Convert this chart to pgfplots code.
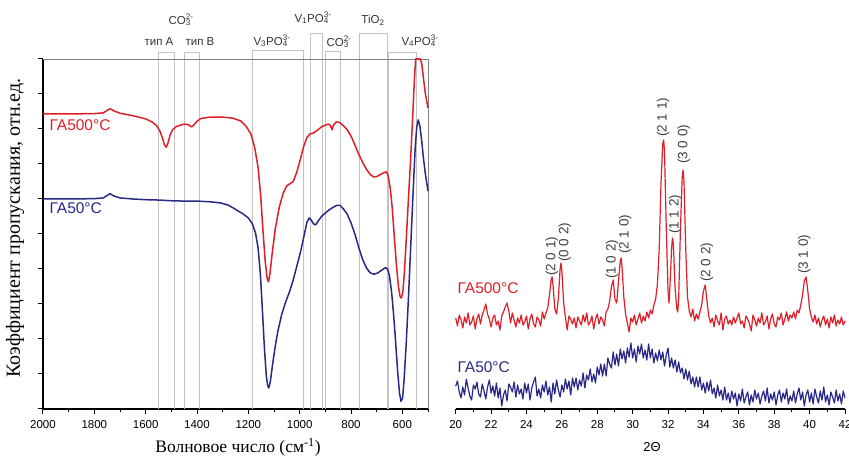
\documentclass[border=0pt]{standalone}
\usepackage{fontspec}
\setmainfont{Liberation Sans}
\newfontfamily\serif{Liberation Serif}
\usepackage{pgfplots}
\usepackage{pgfplotstable}
\pgfplotsset{compat=1.18}
\definecolor{cred}{RGB}{222,30,40}
\definecolor{cblue}{RGB}{40,40,135}
\definecolor{bandgray}{RGB}{195,195,195}
\newcommand\ch[2]{\rlap{\textsubscript{#1}}\textsuperscript{#2}}

\pgfplotstableread{
wn T
2000 8.43
1900 8.43
1800 8.44
1765 8.46
1748 8.54
1738 8.58
1725 8.52
1700 8.45
1650 8.38
1600 8.29
1575 8.20
1558 8.10
1545 7.95
1535 7.75
1527 7.55
1520 7.48
1513 7.60
1505 7.82
1495 7.98
1480 8.07
1460 8.12
1445 8.14
1430 8.11
1422 8.06
1414 8.10
1400 8.22
1385 8.30
1350 8.34
1300 8.34
1260 8.31
1230 8.23
1210 8.09
1190 7.86
1175 7.46
1162 6.90
1152 6.10
1143 5.10
1134 4.20
1127 3.75
1122 3.63
1116 3.85
1107 4.45
1095 5.15
1080 5.75
1065 6.15
1050 6.38
1035 6.45
1025 6.50
1012 6.75
1000 7.06
985 7.49
972 7.75
960 7.86
945 7.89
930 7.97
915 8.06
900 8.11
888 8.14
880 8.10
874 7.98
869 8.10
858 8.20
845 8.19
830 8.10
815 7.98
800 7.80
785 7.55
770 7.28
755 7.05
740 6.85
725 6.70
712 6.63
700 6.64
688 6.69
675 6.74
662 6.78
655 6.65
647 6.30
640 5.80
632 5.00
624 4.20
616 3.55
609 3.22
604 3.17
598 3.34
592 3.90
585 4.80
577 5.90
568 7.10
560 8.30
553 9.40
548 10.0
540 10.0
530 10.0
524 9.85
517 9.40
510 9.00
500 8.60
}\irred

\pgfplotstableread{
wn T
2000 6.00
1900 6.00
1800 6.01
1765 6.03
1748 6.11
1738 6.15
1725 6.09
1700 6.03
1650 6.00
1600 5.98
1550 5.97
1500 5.95
1450 5.94
1400 5.94
1350 5.92
1310 5.89
1280 5.83
1260 5.75
1240 5.66
1220 5.57
1200 5.46
1185 5.30
1172 5.03
1162 4.60
1153 3.85
1145 2.80
1137 1.70
1130 0.95
1125 0.68
1120 0.60
1114 0.80
1105 1.30
1095 1.80
1085 2.22
1070 2.70
1055 3.05
1040 3.34
1025 3.69
1010 4.11
995 4.54
982 4.98
972 5.33
963 5.46
955 5.40
946 5.29
938 5.26
927 5.38
915 5.50
900 5.60
885 5.69
870 5.76
855 5.82
843 5.82
830 5.72
815 5.57
800 5.32
785 5.00
770 4.62
755 4.28
740 4.03
725 3.89
710 3.85
695 3.89
680 3.97
665 4.04
658 4.00
650 3.80
642 3.35
634 2.70
626 1.90
618 1.05
611 0.45
605 0.22
599 0.32
593 0.85
585 1.85
576 3.20
567 4.70
558 6.20
550 7.45
544 8.05
538 8.26
532 8.10
525 7.70
518 7.18
510 6.70
500 6.23
}\irblue

\pgfplotstableread{
x y
20.0 91
20.1 83
20.2 94
20.3 89
20.4 81
20.5 92
20.6 86
20.7 96
20.8 84
20.9 87
21.0 93
21.1 80
21.2 90
21.3 95
21.4 85
21.5 94
21.6 99
21.7 105
21.8 95
21.9 90
22.0 82
22.1 91
22.2 94
22.3 84
22.4 88
22.5 79
22.6 93
22.7 97
22.8 102
22.9 106
23.0 98
23.1 86
23.2 96
23.3 89
23.4 82
23.5 91
23.6 86
23.7 94
23.8 84
23.9 87
24.0 93
24.1 80
24.2 90
24.3 95
24.4 85
24.5 82
24.6 92
24.7 89
24.8 83
24.9 97
25.0 90
25.1 96
25.2 101
25.3 114
25.4 130
25.45 132
25.5 124
25.6 100
25.7 95
25.8 110
25.9 140
25.95 146
26.0 138
26.1 106
26.2 92
26.3 79
26.4 93
26.5 90
26.6 85
26.7 91
26.8 81
26.9 92
27.0 88
27.1 84
27.2 94
27.3 87
27.4 96
27.5 84
27.6 87
27.7 93
27.8 80
27.9 90
28.0 95
28.1 85
28.2 92
28.3 89
28.4 83
28.5 97
28.6 100
28.7 108
28.8 122
28.9 129
29.0 110
29.1 106
29.2 128
29.3 148
29.35 151
29.4 142
29.5 112
29.6 95
29.7 86
29.8 77
29.9 91
30.0 87
30.1 94
30.2 84
30.3 90
30.4 96
30.5 86
30.6 93
30.7 88
30.8 97
30.9 91
31.0 99
31.1 95
31.2 104
31.3 110
31.4 125
31.5 160
31.6 225
31.7 265
31.75 269
31.8 258
31.9 180
32.0 118
32.05 106
32.1 120
32.2 160
32.25 171
32.3 165
32.4 120
32.5 100
32.55 97
32.6 110
32.7 180
32.8 232
32.85 239
32.9 228
33.0 160
33.1 112
33.2 98
33.3 92
33.4 100
33.5 88
33.6 95
33.7 90
33.8 97
33.9 104
34.0 118
34.1 124
34.2 108
34.3 93
34.4 86
34.5 91
34.6 82
34.7 94
34.8 88
34.9 84
35.0 96
35.1 79
35.2 90
35.3 93
35.4 85
35.5 89
35.6 84
35.7 92
35.8 86
35.9 91
36.0 96
36.1 85
36.2 88
36.3 81
36.4 93
36.5 90
36.6 85
36.7 78
36.8 94
36.9 89
37.0 83
37.1 91
37.2 86
37.3 96
37.4 84
37.5 87
37.6 93
37.7 80
37.8 90
37.9 95
38.0 85
38.1 82
38.2 92
38.3 89
38.4 96
38.5 84
38.6 90
38.7 97
38.8 88
38.9 94
39.0 91
39.1 97
39.2 90
39.3 99
39.4 96
39.5 104
39.6 114
39.7 128
39.8 132
39.9 118
40.0 100
40.1 92
40.2 87
40.3 94
40.4 85
40.5 91
40.6 82
40.7 89
40.8 93
40.9 84
41.0 90
41.1 81
41.2 92
41.3 86
41.4 94
41.5 83
41.6 89
41.7 85
41.8 92
41.9 84
42.0 88
}\xrdred

\pgfplotstableread{
x y
20.0 23
20.1 28
20.2 17
20.3 11
20.4 22
20.5 14
20.6 30
20.7 21
20.8 13
20.9 9
21.0 24
21.1 20
21.2 27
21.3 15
21.4 12
21.5 25
21.6 18
21.7 10
21.8 22
21.9 29
22.0 16
22.1 23
22.2 13
22.3 26
22.4 11
22.5 21
22.6 3
22.7 14
22.8 19
22.9 8
23.0 25
23.1 22
23.2 17
23.3 27
23.4 12
23.5 24
23.6 15
23.7 20
23.8 10
23.9 26
24.0 16
24.1 25
24.2 9
24.3 21
24.4 27
24.5 32
24.6 13
24.7 20
24.8 11
24.9 24
25.0 17
25.1 28
25.2 14
25.3 22
25.4 7
25.5 26
25.6 15
25.7 29
25.8 19
25.9 12
26.0 24
26.1 17
26.2 30
26.3 20
26.4 28
26.5 14
26.6 31
26.7 22
26.8 31
26.9 19
27.0 29
27.1 23
27.2 36
27.3 21
27.4 34
27.5 29
27.6 40
27.7 27
27.8 35
27.9 26
28.0 42
28.1 34
28.2 45
28.3 33
28.4 45
28.5 33
28.6 51
28.7 45
28.8 41
28.9 57
29.0 44
29.1 55
29.2 43
29.3 60
29.4 50
29.5 58
29.6 46
29.7 61
29.8 52
29.9 66
30.0 51
30.1 60
30.2 47
30.3 63
30.4 55
30.5 65
30.6 51
30.7 59
30.8 49
30.9 65
31.0 51
31.1 60
31.2 46
31.3 56
31.4 48
31.5 59
31.6 49
31.7 57
31.8 43
31.9 54
32.0 61
32.1 42
32.2 51
32.3 41
32.4 49
32.5 37
32.6 47
32.7 36
32.8 41
32.9 30
33.0 40
33.1 29
33.2 38
33.3 25
33.4 32
33.5 22
33.6 32
33.7 22
33.8 32
33.9 19
34.0 26
34.1 16
34.2 27
34.3 18
34.4 29
34.5 15
34.6 21
34.7 11
34.8 24
34.9 13
35.0 19
35.1 9
35.2 22
35.3 9
35.4 16
35.5 6
35.6 18
35.7 10
35.8 16
35.9 3
36.0 15
36.1 8
36.2 20
36.3 6
36.4 12
36.5 17
36.6 4
36.7 14
36.8 7
36.9 19
37.0 10
37.1 16
37.2 5
37.3 13
37.4 18
37.5 8
37.6 21
37.7 6
37.8 15
37.9 9
38.0 17
38.1 4
38.2 14
38.3 19
38.4 7
38.5 16
38.6 10
38.7 20
38.8 5
38.9 13
39.0 8
39.1 18
39.2 6
39.3 15
39.4 21
39.5 9
39.6 17
39.7 3
39.8 14
39.9 19
40.0 7
40.1 16
40.2 5
40.3 20
40.4 12
40.5 6
40.6 18
40.7 9
40.8 22
40.9 7
41.0 14
41.1 4
41.2 17
41.3 12
41.4 6
41.5 19
41.6 8
41.7 15
41.8 5
41.9 18
42.0 11
}\xrdblue

\pgfplotsset{
  every outer x axis line/.append style={-},
  every outer y axis line/.append style={-},
  every inner x axis line/.append style={-},
  every inner y axis line/.append style={-},
}

\begin{document}
\begin{tikzpicture}[x=1pt,y=1pt]
\useasboundingbox (0,0) rectangle (849,457);
% ---------------- IR panel ----------------
\begin{axis}[
  at={(43pt,48pt)}, anchor=south west, scale only axis,
  width=385pt, height=350pt,
  xmin=-2000, xmax=-500, ymin=0, ymax=10,
  axis lines=left,
  axis line style={-, line width=1.1pt, black},
  xtick={-2000,-1800,...,-600},
  xticklabels={2000,1800,1600,1400,1200,1000,800,600},
  minor xtick={-1900,-1700,...,-500},
  ytick={0,1,...,10}, yticklabels={},
  tick align=outside, major tick length=5pt, minor tick length=3.5pt,
  tick style={black, line width=1pt},
  xticklabel style={font=\fontsize{11.5}{12}\selectfont, yshift=-3pt},
  clip=false,
]
\draw[bandgray, line width=0.6pt] (axis cs:-1552,0) |- (axis cs:-1490,10.2) -- (axis cs:-1490,0);
\draw[bandgray, line width=0.6pt] (axis cs:-1451,0) |- (axis cs:-1392,10.2) -- (axis cs:-1392,0);
\draw[bandgray, line width=0.6pt] (axis cs:-1186,0) |- (axis cs:-987,10.26) -- (axis cs:-987,0);
\draw[bandgray, line width=0.6pt] (axis cs:-960,0) |- (axis cs:-913,10.74) -- (axis cs:-913,0);
\draw[bandgray, line width=0.6pt] (axis cs:-901,0) |- (axis cs:-843,10.23) -- (axis cs:-843,0);
\draw[bandgray, line width=0.6pt] (axis cs:-769,0) |- (axis cs:-660,10.74) -- (axis cs:-660,0);
\draw[bandgray, line width=0.6pt] (axis cs:-656,0) |- (axis cs:-547,10.2) -- (axis cs:-547,0);
\draw[gray, line width=0.5pt] (rel axis cs:0,1) -- (rel axis cs:1,1) -- (rel axis cs:1,0);
\addplot[cblue, line width=1.5pt, line join=round] table[x expr=-\thisrow{wn}, y=T] {\irblue};
\addplot[cred, line width=1.5pt, line join=round] table[x expr=-\thisrow{wn}, y=T] {\irred};
\end{axis}
% ---------------- XRD panel ----------------
\begin{axis}[
  at={(455.7pt,48pt)}, anchor=south west, scale only axis,
  width=389.3pt, height=299pt,
  xmin=20, xmax=42, ymin=0, ymax=299,
  axis x line=bottom, axis y line=none,
  axis line style={-, line width=1.1pt, black},
  xtick={20,22,...,42}, minor xtick={21,23,...,41},
  tick align=outside, major tick length=5pt, minor tick length=3.5pt,
  tick style={black, line width=1pt},
  xticklabel style={font=\fontsize{11.5}{12}\selectfont, yshift=-3pt},
  /pgf/number format/assume math mode=true,
  clip=false,
]
\addplot[cred, line width=1.2pt, line join=round] table[x=x, y=y] {\xrdred};
\addplot[cblue, line width=1.2pt, line join=round] table[x=x, y=y] {\xrdblue};
\begin{scope}[every node/.style={rotate=90, anchor=west, inner sep=1pt, font=\fontsize{13.5}{14}\selectfont, text=black!75}]
\node at (axis cs:25.44,132) {(2 0 1)};
\node at (axis cs:26.17,146) {(0 0 2)};
\node at (axis cs:28.84,129) {(1 0 2)};
\node at (axis cs:29.57,154) {(2 1 0)};
\node at (axis cs:31.72,271) {(2 1 1)};
\node at (axis cs:32.40,174) {(1 1 2)};
\node at (axis cs:32.90,244) {(3 0 0)};
\node at (axis cs:34.20,126) {(2 0 2)};
\node at (axis cs:39.70,134) {(3 1 0)};
\end{scope}
\end{axis}
% ---------------- texts ----------------
\node[font=\serif\fontsize{17.5}{18}\selectfont] at (238,10) {Волновое число (см\textsuperscript{-1})};
\node[font=\serif\fontsize{20}{21}\selectfont, rotate=90] at (15,229) {Коэффициент пропускания, отн.ед.};
\node[font=\fontsize{13}{14}\selectfont] at (652,10) {2Θ};
\node[anchor=west, text=cred, font=\fontsize{15.5}{16}\selectfont] at (46,332) {ГА500°С};
\node[anchor=west, text=cblue, font=\fontsize{15.5}{16}\selectfont] at (46,249) {ГА50°С};
\node[anchor=west, text=cred, font=\fontsize{15.5}{16}\selectfont] at (454,169) {ГА500°С};
\node[anchor=west, text=cblue, font=\fontsize{15.5}{16}\selectfont] at (454,90) {ГА50°С};
\begin{scope}[every node/.style={font=\fontsize{11.5}{12}\selectfont, text=black!80, inner sep=0pt}]
\node at (181,437) {CO\ch{3}{2-}};
\node at (159,415) {тип A};
\node at (200,415) {тип B};
\node at (272,416) {V\textsubscript{3}PO\ch{4}{3-}};
\node at (313,439) {V\textsubscript{1}PO\ch{4}{3-}};
\node at (339,415) {CO\ch{3}{2-}};
\node at (373,437) {TiO\textsubscript{2}};
\node at (420,416) {V\textsubscript{4}PO\ch{4}{3-}};
\end{scope}
\end{tikzpicture}
\end{document}
